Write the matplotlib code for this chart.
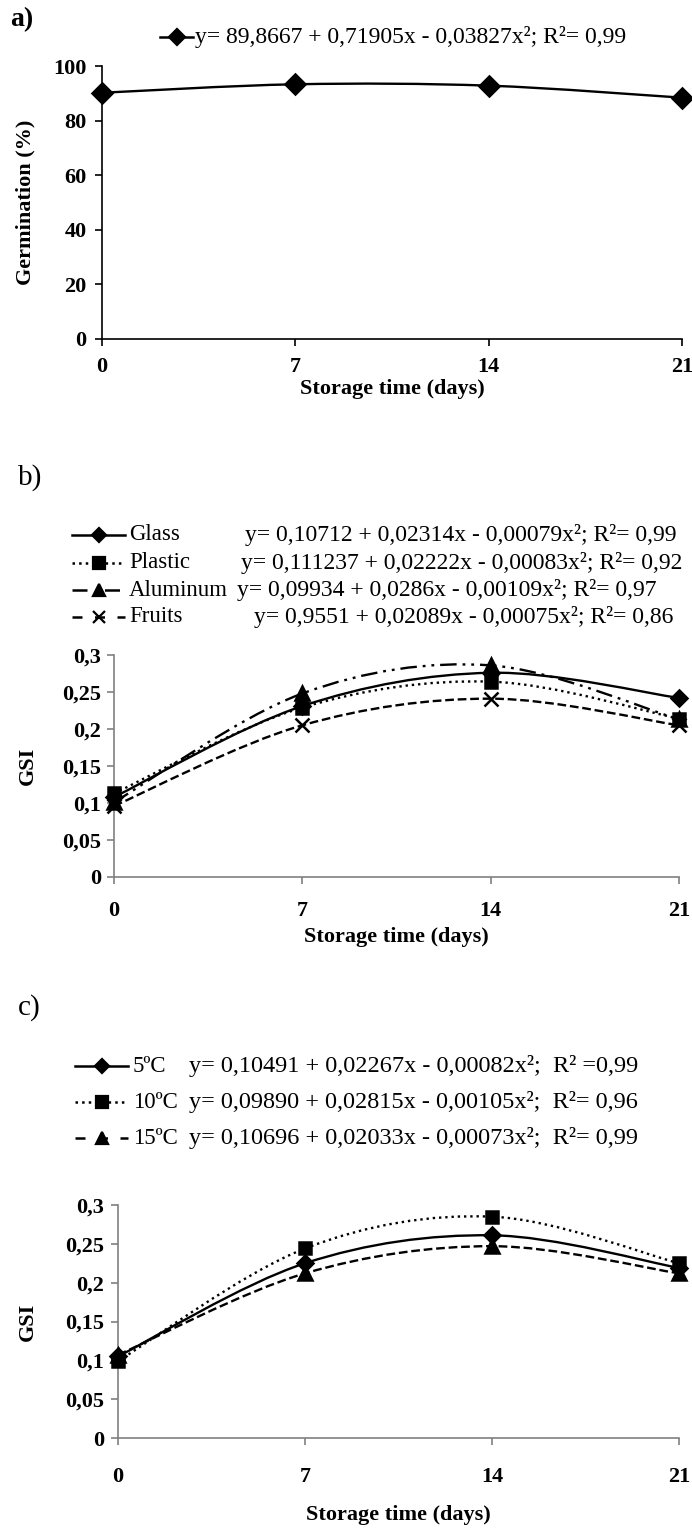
import numpy as np
import matplotlib.pyplot as plt
from matplotlib.path import Path
from matplotlib.patches import PathPatch
from matplotlib.lines import Line2D

plt.rcParams['font.family'] = ['Liberation Serif', 'DejaVu Serif']

W, H = 692, 1531

# data
days = [0, 7, 14, 21]
germ = [90.2, 93.3, 92.8, 88.4]
germ_eq = 'y= 89,8667 + 0,71905x - 0,03827x²; R²= 0,99'

pack_names = ['Glass', 'Plastic', 'Aluminum', 'Fruits']
glass = [0.108, 0.231, 0.276, 0.242]
plastic = [0.113, 0.229, 0.264, 0.214]
aluminum = [0.101, 0.248, 0.286, 0.213]
fruits = [0.096, 0.205, 0.241, 0.205]
pack_eqs = ['y= 0,10712 + 0,02314x - 0,00079x²; R²= 0,99',
            'y= 0,111237 + 0,02222x - 0,00083x²; R²= 0,92',
            'y= 0,09934 + 0,0286x - 0,00109x²; R²= 0,97',
            'y= 0,9551 + 0,02089x - 0,00075x²; R²= 0,86']

temp_names = ['5ºC', '10ºC', '15ºC']
t5 = [0.105, 0.225, 0.261, 0.219]
t10 = [0.099, 0.244, 0.285, 0.225]
t15 = [0.107, 0.212, 0.247, 0.212]
temp_eqs = ['y= 0,10491 + 0,02267x - 0,00082x²;  R² =0,99',
            'y= 0,09890 + 0,02815x - 0,00105x²;  R²= 0,96',
            'y= 0,10696 + 0,02033x - 0,00073x²;  R²= 0,99']

germ_ticks = [0, 20, 40, 60, 80, 100]
gsi_ticks = [0, 0.05, 0.1, 0.15, 0.2, 0.25, 0.3]
gsi_labels = ['0', '0,05', '0,1', '0,15', '0,2', '0,25', '0,3']

# line styles: (linestyle, marker, marker size)
dashdotdot = (0, (7, 2.5, 1.2, 2.5, 1.2, 2.5))
pack_styles = [('-', 'D', 8), (':', 's', 9), (dashdotdot, '^', 10), ('--', 'x', 10)]
temp_styles = [('-', 'D', 8), (':', 's', 9), ('--', '^', 10)]


def smooth(x, y):
    # Excel-like smoothed line (Catmull-Rom as cubic Bezier)
    verts = [(x[0], y[0])]
    codes = [Path.MOVETO]
    n = len(x)
    for i in range(n - 1):
        a = max(i - 1, 0)
        d = min(i + 2, n - 1)
        c1 = (x[i] + (x[i + 1] - x[a]) / 6, y[i] + (y[i + 1] - y[a]) / 6)
        c2 = (x[i + 1] - (x[d] - x[i]) / 6, y[i + 1] - (y[d] - y[i]) / 6)
        verts += [c1, c2, (x[i + 1], y[i + 1])]
        codes += [Path.CURVE4] * 3
    return Path(verts, codes)


def series(ax, y, ls, mk, ms):
    ax.add_patch(PathPatch(smooth(days, y), fill=False, ec='black', lw=1.7, ls=ls, zorder=2))
    ax.plot(days, y, ls='none', marker=mk, ms=ms, color='black', mew=1.8, zorder=3, clip_on=False)


def box(l, t, r, b):
    return [l / W, 1 - b / H, (r - l) / W, (b - t) / H]


fig = plt.figure(figsize=(W / 100, H / 100), dpi=100)


def setup(ax, ticks, labels, ylab, spine_col, ypad, xpad, xlab_y, ylab_x, top, bottom, left):
    ax.set_xlim(0, 21)
    ax.set_xticks(days)
    ax.set_yticks(ticks)
    ax.set_yticklabels(labels)
    ax.set_ylim(ticks[0], ticks[-1])
    for s in ['top', 'right']:
        ax.spines[s].set_visible(False)
    for s in ['left', 'bottom']:
        ax.spines[s].set_color(spine_col)
        ax.spines[s].set_linewidth(1.2)
    ax.tick_params(axis='both', length=5, width=1.2, color=spine_col, labelsize=16)
    ax.tick_params(axis='y', pad=ypad)
    ax.tick_params(axis='x', pad=xpad)
    for lb in ax.get_xticklabels() + ax.get_yticklabels():
        lb.set_fontweight('bold')
    ax.set_xlabel('Storage time (days)', fontsize=16, fontweight='bold')
    ax.xaxis.set_label_coords(0.5, 1 - (xlab_y - top) / (bottom - top))
    ax.xaxis.label.set_va('center')
    ax.set_ylabel(ylab, fontsize=16, fontweight='bold')
    ax.yaxis.set_label_coords(-(left - ylab_x) / (ax.get_position().width * W), 0.5)
    ax.yaxis.label.set_va('center')


# panel a
axa = fig.add_axes(box(102, 66, 682, 339))
series(axa, germ, '-', 'D', 10)
setup(axa, germ_ticks, [str(v) for v in germ_ticks], 'Germination (%)', 'black', 6, 8, 389, 25, 66, 339, 102)

# panel b
axb = fig.add_axes(box(114, 655, 679, 877))
for vals, (ls, mk, ms) in zip([glass, plastic, aluminum, fruits], pack_styles):
    series(axb, vals, ls, mk, ms)
setup(axb, gsi_ticks, gsi_labels, 'GSI', '#808080', 4, 12, 937, 28, 655, 877, 114)

# panel c
axc = fig.add_axes(box(118, 1205, 679, 1438))
for vals, (ls, mk, ms) in zip([t5, t10, t15], temp_styles):
    series(axc, vals, ls, mk, ms)
setup(axc, gsi_ticks, gsi_labels, 'GSI', '#808080', 5, 16, 1515, 28, 1205, 1438, 118)

# overlay for panel letters and legends (pixel coords)
lay = fig.add_axes([0, 0, 1, 1])
lay.set_xlim(0, W)
lay.set_ylim(H, 0)
lay.axis('off')

lay.text(10, 20, 'a)', fontsize=20, fontweight='bold', va='center')
lay.text(18, 478, 'b)', fontsize=21, va='center')
lay.text(18, 1008, 'c)', fontsize=21, va='center')


def key(x0, x1, y, ls, mk, ms):
    lay.add_line(Line2D([x0, x1], [y, y], color='black', lw=1.8, ls=ls))
    lay.plot([(x0 + x1) / 2], [y], marker=mk, ms=ms, color='black', mew=1.6, ls='none')


key(160, 193, 37, '-', 'D', 8)
lay.text(195, 37, germ_eq, fontsize=17, va='center')

b_rows = [535, 563, 590, 617]
b_eq_x = [245, 241, 237, 254]
b_keys = [('-', 'D', 7), (':', 's', 8), ((0, (6, 3, 1, 3)), '^', 8), ((0, (4, 5)), 'x', 8)]
for name, eq, yy, ex, (ls, mk, ms) in zip(pack_names, pack_eqs, b_rows, b_eq_x, b_keys):
    key(72, 125, yy, ls, mk, ms)
    lay.text(129, yy, name, fontsize=16.5, va='center')
    lay.text(ex, yy, eq, fontsize=17, va='center')

c_rows = [1066, 1102, 1138]
c_keys = [('-', 'D', 7), (':', 's', 8), ((0, (4, 5)), '^', 8)]
for name, eq, yy, (ls, mk, ms) in zip(temp_names, temp_eqs, c_rows, c_keys):
    key(75, 128, yy, ls, mk, ms)
    lay.text(133, yy, name, fontsize=16.5, va='center')
    lay.text(189, yy, eq, fontsize=17.5, va='center')

fig.savefig('out.png', dpi=100)
